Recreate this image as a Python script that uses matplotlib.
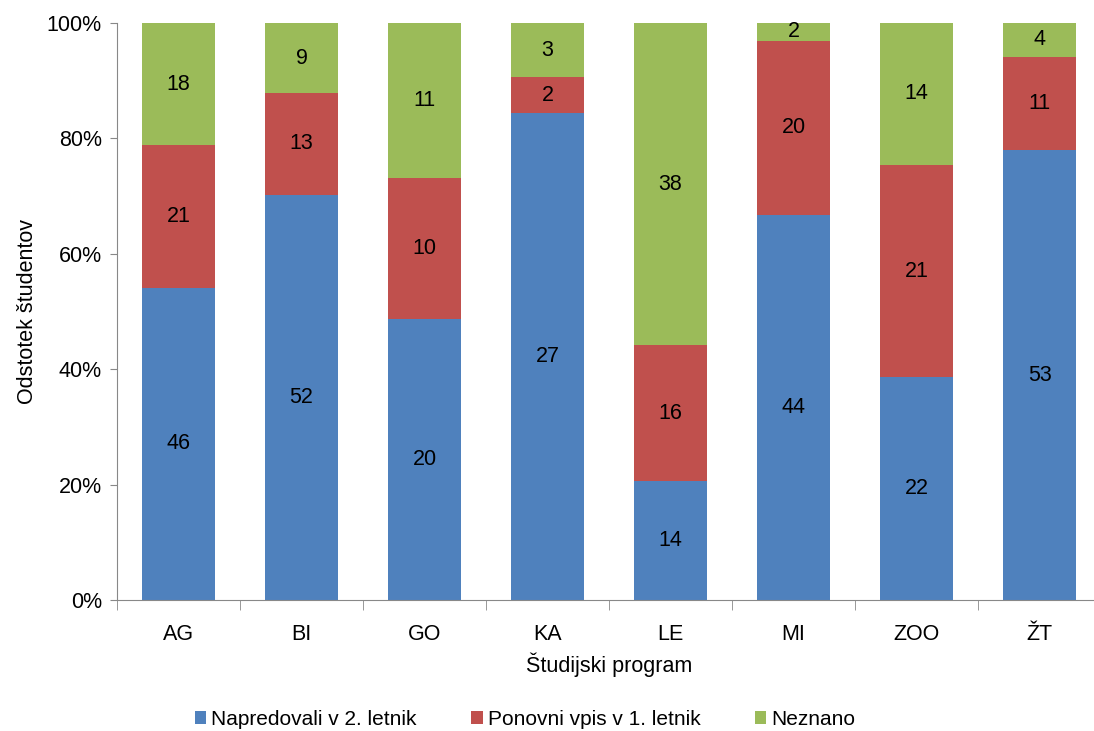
import numpy as np
import matplotlib.pyplot as plt
from matplotlib.ticker import PercentFormatter

plt.rcParams['font.family'] = ['Liberation Sans', 'DejaVu Sans']

programs = ["AG", "BI", "GO", "KA", "LE", "MI", "ZOO", "ŽT"]
napredovali = [46, 52, 20, 27, 14, 44, 22, 53]
ponovni_vpis = [21, 13, 10, 2, 16, 20, 21, 11]
neznano = [18, 9, 11, 3, 38, 2, 14, 4]

series = [
    ("Napredovali v 2. letnik", napredovali, "#4F81BD"),
    ("Ponovni vpis v 1. letnik", ponovni_vpis, "#C0504D"),
    ("Neznano", neznano, "#9BBB59"),
]

counts = np.array([s[1] for s in series], dtype=float)
totals = counts.sum(axis=0)
shares = counts / totals * 100

fig = plt.figure(figsize=(10.94, 7.31), dpi=100)
ax = fig.add_axes([0.1070, 0.1792, 0.8995, 0.7893])

x = np.arange(len(programs))
bottom = np.zeros(len(programs))
for (name, vals, color), pct in zip(series, shares):
    ax.bar(x, pct, width=0.59, bottom=bottom, color=color, label=name, zorder=2)
    for xi, b, p, v in zip(x, bottom, pct, vals):
        ax.text(xi, b + p / 2, str(v), ha="center", va="center", fontsize=15.5, color="black")
    bottom += pct

ax.set_xlim(-0.5, len(programs) - 0.5)
ax.set_ylim(0, 100)
ax.yaxis.set_major_formatter(PercentFormatter(decimals=0))
ax.set_yticks(np.arange(0, 101, 20))
ax.set_xticks(x)
ax.set_xticklabels(programs)
ax.set_xticks(np.arange(-0.5, len(programs), 1), minor=True)
ax.tick_params(axis="x", which="major", length=0, pad=17, labelsize=15.5)
ax.tick_params(axis="x", which="minor", length=7, color="#888888")
ax.tick_params(axis="y", length=5, color="#888888", labelsize=15.5, pad=6)

for side in ["top", "right"]:
    ax.spines[side].set_visible(False)
for side in ["left", "bottom"]:
    ax.spines[side].set_color("#888888")

ax.set_xlabel("Študijski program", fontsize=15.5, labelpad=6)
ax.set_ylabel("Odstotek študentov", fontsize=15.5, labelpad=6)

fig.legend(loc="center", bbox_to_anchor=(0.480, 0.016), ncol=3, frameon=False,
           fontsize=15, handlelength=0.55, handleheight=0.55, handletextpad=0.25,
           columnspacing=2.6)

fig.savefig("out.png", dpi=100)
